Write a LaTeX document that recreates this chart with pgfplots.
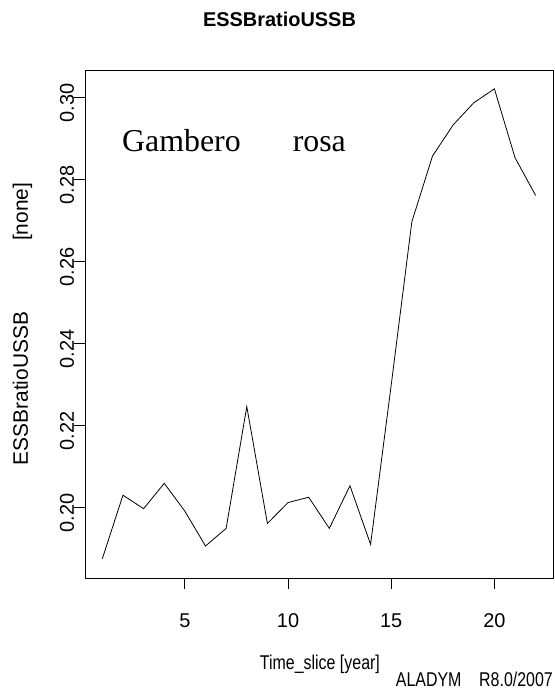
\documentclass[border=0pt]{standalone}
\usepackage{pgfplots}
\pgfplotsset{compat=1.18}
\usepackage{fontspec}
\setmainfont{Liberation Sans}
\newfontfamily\cond[FakeStretch=0.8]{Liberation Sans}
\newfontfamily\serifrm{Liberation Serif}
\begin{document}
\begin{tikzpicture}
\path[use as bounding box] (0,0) rectangle (555bp,697bp);
\begin{axis}[
  at={(85bp,119bp)}, anchor=south west,
  scale only axis, width=468bp, height=508bp,
  xmin=0.16, xmax=22.84, ymin=0.1829, ymax=0.3068,
  axis line style={line width=0.9bp, black},
  tick align=outside, major tick length=11bp,
  every tick/.style={line width=0.9bp, black},
  xtick pos=left, ytick pos=left,
  xtick={5,10,15,20}, ytick={0.20,0.22,0.24,0.26,0.28,0.30},
  minor tick num=0,
  /pgf/number format/assume math mode=true,
  ticklabel style={font=\fontsize{20}{20}\selectfont},
  yticklabel style={/pgf/number format/fixed, /pgf/number format/fixed zerofill, /pgf/number format/precision=2, rotate=90, anchor=base, xshift=-5bp},
  xticklabel style={anchor=base, yshift=-39bp},
  title={ESSBratioUSSB},
  title style={font=\bfseries\fontsize{20}{20}\selectfont, at={(axis description cs:0.4156,1.0742)}, anchor=base},
  xlabel={Time\_slice [year]},
  every axis x label/.style={font=\cond\fontsize{20}{20}\selectfont, at={(axis description cs:0.502,-0.1797)}, anchor=base},
  ylabel={ESSBratioUSSB\hspace{71bp}[none]},
  every axis y label/.style={font=\fontsize{21}{21}\selectfont, at={(axis description cs:-0.1218,0.5)}, rotate=90, anchor=base},
  clip=false,
]
\addplot[black, line width=0.8bp, mark=none] coordinates {
(1,0.1876) (2,0.2031) (3,0.1998) (4,0.2060) (5,0.1992) (6,0.1907)
(7,0.1950) (8,0.2247) (9,0.1962) (10,0.2013) (11,0.2026) (12,0.1950)
(13,0.2054) (14,0.1911) (15,0.2300) (16,0.2698) (17,0.2858) (18,0.2934)
(19,0.2988) (20,0.3022) (21,0.2854) (22,0.2762)
};
\node[anchor=base west, inner sep=0pt, font=\serifrm\fontsize{32}{32}\selectfont] at (axis cs:1.95,0.2869) {Gambero\hspace{52bp}rosa};
\node[anchor=base east, inner sep=0pt, font=\cond\fontsize{20}{20}\selectfont] at (axis description cs:1,-0.214) {ALADYM\ \ \ \ R8.0/2007};
\end{axis}
\end{tikzpicture}
\end{document}
